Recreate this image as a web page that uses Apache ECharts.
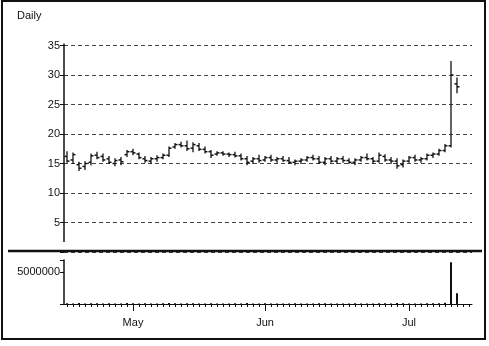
<!DOCTYPE html>
<html>
<head>
<meta charset="utf-8">
<script src="https://cdn.jsdelivr.net/npm/echarts@6/dist/echarts.min.js"></script>
<style>
html,body{margin:0;padding:0;background:#fff;}
#chart{width:489px;height:346px;}
</style>
</head>
<body>
<div id="chart"></div>
<script>
// Trading-day categories (MM-DD), plus two empty slots at the right end of the axis
var dates = [
 '04-16','04-17','04-18','04-21','04-22','04-23','04-24','04-25','04-28','04-29','04-30',
 '05-01','05-02','05-05','05-06','05-07','05-08','05-09','05-12','05-13','05-14','05-15',
 '05-16','05-19','05-20','05-21','05-22','05-23','05-26','05-27','05-28','05-29','05-30',
 '06-02','06-03','06-04','06-05','06-06','06-07','06-09','06-10','06-11','06-12','06-13',
 '06-14','06-16','06-17','06-18','06-19','06-20','06-21','06-23','06-24','06-25','06-26',
 '06-27','06-30',
 '07-01','07-02','07-03','07-07','07-08','07-09','07-10','07-11','07-14',
 'pad1','pad2'
];
var monthStarts = {'05-01':'May','06-02':'Jun','07-01':'Jul'};

var opens  = [16.2,15.6,14.8,14.5,15.2,16.4,16.2,15.8,15.0,15.6,16.5,17.0,16.6,15.8,15.4,15.8,16.0,16.4,17.8,18.2,18.0,17.6,18.0,17.4,17.0,16.6,16.8,16.6,16.5,16.3,15.8,15.4,15.8,15.6,16.0,15.6,15.8,15.5,15.2,15.4,15.6,16.0,15.8,15.2,15.8,15.4,15.8,15.5,15.2,15.6,16.0,15.8,15.4,16.2,15.6,15.4,14.8,15.4,16.0,15.6,15.8,16.4,16.6,17.2,18.0,28.5];
var highs  = [17.0,16.8,15.2,15.3,16.6,16.9,16.6,16.2,15.8,16.0,17.2,17.4,16.8,16.2,16.0,16.3,16.6,17.8,18.4,18.6,18.8,18.5,18.4,17.8,17.2,17.0,17.0,16.8,16.9,16.6,16.2,16.0,16.4,16.2,16.4,16.0,16.2,16.0,15.6,15.8,16.2,16.4,16.2,16.0,16.2,16.0,16.2,15.8,15.8,16.2,16.6,16.0,16.8,16.5,16.0,15.8,15.6,16.2,16.4,16.0,16.6,16.8,17.4,18.2,32.3,29.5];
var lows   = [15.2,15.0,13.8,14.0,14.8,15.8,15.4,15.0,14.6,14.8,16.2,16.5,15.8,15.2,15.0,15.4,15.8,16.2,17.6,17.8,17.2,17.0,17.2,16.8,16.0,16.4,16.4,16.2,16.1,15.6,14.8,15.0,15.2,15.4,15.4,15.2,15.4,15.0,14.8,15.0,15.4,15.6,15.0,14.8,15.2,15.0,15.2,15.0,14.8,15.4,15.6,15.0,15.2,15.4,15.0,14.2,14.4,15.2,15.4,15.2,15.6,16.0,16.4,17.0,17.8,27.0];
var closes = [15.4,16.5,14.2,15.0,16.3,16.0,15.6,15.2,15.5,15.3,17.0,16.8,16.0,15.5,15.8,16.0,16.4,17.6,18.2,18.0,17.5,18.2,17.4,17.0,16.4,16.8,16.6,16.5,16.3,15.8,15.2,15.8,15.5,16.0,15.6,15.8,15.5,15.2,15.4,15.6,16.0,15.8,15.2,15.8,15.4,15.8,15.5,15.2,15.6,16.0,15.8,15.4,16.4,15.6,15.4,14.6,15.4,16.0,15.6,15.8,16.4,16.6,17.2,18.0,30.0,28.0];
var volumes = [120000,90000,150000,80000,110000,100000,70000,130000,90000,80000,140000,100000,90000,110000,80000,70000,100000,160000,130000,90000,120000,100000,80000,90000,110000,70000,80000,90000,100000,80000,150000,90000,80000,100000,90000,70000,80000,90000,100000,80000,70000,90000,110000,100000,80000,90000,70000,80000,100000,90000,80000,90000,120000,100000,80000,140000,110000,90000,80000,90000,100000,110000,130000,180000,6550000,1700000];

var yTicks = {min:0, max:35, interval:5};
var yAxisLineEnd = 1.7; // value where the price axis line stops
var volTicks = {min:0, max:6900000, interval:5000000};

var ohlc = opens.map(function(o,i){ return [i, o, highs[i], lows[i], closes[i]]; });

var ink = '#111';
var chart = echarts.init(document.getElementById('chart'), null, {renderer:'canvas'});
var option = {
  animation:false,
  backgroundColor:'#fff',
  textStyle:{fontFamily:'Liberation Sans, Arial, sans-serif'},
  grid:[
    {left:64, right:17, top:45.5, height:206.5},
    {left:64, right:17, top:260, height:44}
  ],
  xAxis:[
    {type:'category', gridIndex:0, data:dates, show:false},
    {type:'category', gridIndex:1, data:dates,
     axisLine:{show:true, lineStyle:{color:ink, width:1}},
     axisTick:{show:true, interval:0, alignWithLabel:true, length:3, lineStyle:{color:ink}},
     axisLabel:{show:false}},
    {type:'category', gridIndex:1, data:dates, position:'bottom',
     axisLine:{show:false},
     axisTick:{show:true, alignWithLabel:true, length:7, lineStyle:{color:ink},
               interval:function(i,v){ return monthStarts.hasOwnProperty(v); }},
     axisLabel:{show:true, color:ink, fontSize:11, margin:13,
               interval:function(i,v){ return monthStarts.hasOwnProperty(v); },
               formatter:function(v){ return monthStarts[v] || ''; }}}
  ],
  yAxis:[
    {type:'value', gridIndex:0, min:yTicks.min, max:yTicks.max, interval:yTicks.interval,
     axisLine:{show:false},
     axisTick:{show:true, length:4, lineStyle:{color:ink}},
     axisLabel:{color:ink, fontSize:11, margin:4, formatter:function(v){ return v===0?'':v; }},
     splitLine:{show:true, lineStyle:{color:'#444', type:[4,3], width:1}}},
    {type:'value', gridIndex:1, min:volTicks.min, max:volTicks.max, interval:volTicks.interval,
     axisLine:{show:true, lineStyle:{color:ink, width:1.5}},
     axisTick:{show:true, length:4, lineStyle:{color:ink}},
     axisLabel:{color:ink, fontSize:11, margin:4, formatter:function(v){ return v===5000000?'5000000':''; }},
     splitLine:{show:false}}
  ],
  series:[
    {type:'custom', xAxisIndex:0, yAxisIndex:0, data:ohlc,
     encode:{x:0, y:[1,2,3,4]},
     renderItem:function(params, api){
       var x = api.value(0);
       var o = api.coord([x, api.value(1)]);
       var h = api.coord([x, api.value(2)]);
       var l = api.coord([x, api.value(3)]);
       var c = api.coord([x, api.value(4)]);
       var st = {stroke:ink, lineWidth:1.3};
       return {type:'group', children:[
         {type:'line', shape:{x1:h[0], y1:h[1]-0.5, x2:l[0], y2:l[1]+0.5}, style:st},
         {type:'line', shape:{x1:o[0]-2.5, y1:o[1], x2:o[0], y2:o[1]}, style:{stroke:ink, lineWidth:1.5}},
         {type:'line', shape:{x1:c[0], y1:c[1], x2:c[0]+2.5, y2:c[1]}, style:{stroke:ink, lineWidth:1.5}}
       ]};
     }},
    {type:'bar', xAxisIndex:1, yAxisIndex:1, data:volumes, barWidth:2,
     itemStyle:{color:ink}}
  ],
  graphic:[
    {type:'rect', shape:{x:2, y:1, width:483, height:338}, style:{fill:'none', stroke:ink, lineWidth:2}, z:100},
    {type:'line', shape:{x1:8, y1:251, x2:482, y2:251}, style:{stroke:ink, lineWidth:2.5}, z:100},
    {type:'text', left:17, top:10, style:{text:'Daily', fill:ink, font:'11px Liberation Sans, Arial, sans-serif'}, z:100}
  ]
};
chart.setOption(option);

// price axis line, from the top of the scale down to where it stops in the original
var topPx = chart.convertToPixel({yAxisIndex:0}, yTicks.max);
var endPx = chart.convertToPixel({yAxisIndex:0}, yAxisLineEnd);
chart.setOption({graphic:[
  {type:'rect', shape:{x:2, y:1, width:483, height:338}, style:{fill:'none', stroke:ink, lineWidth:2}, z:100},
  {type:'line', shape:{x1:8, y1:251, x2:482, y2:251}, style:{stroke:ink, lineWidth:2.5}, z:100},
  {type:'text', left:17, top:10, style:{text:'Daily', fill:ink, font:'11px Liberation Sans, Arial, sans-serif'}, z:100},
  {type:'line', shape:{x1:64, y1:topPx - 2, x2:64, y2:endPx}, style:{stroke:ink, lineWidth:1.5}, z:100}
]});
</script>
</body>
</html>
